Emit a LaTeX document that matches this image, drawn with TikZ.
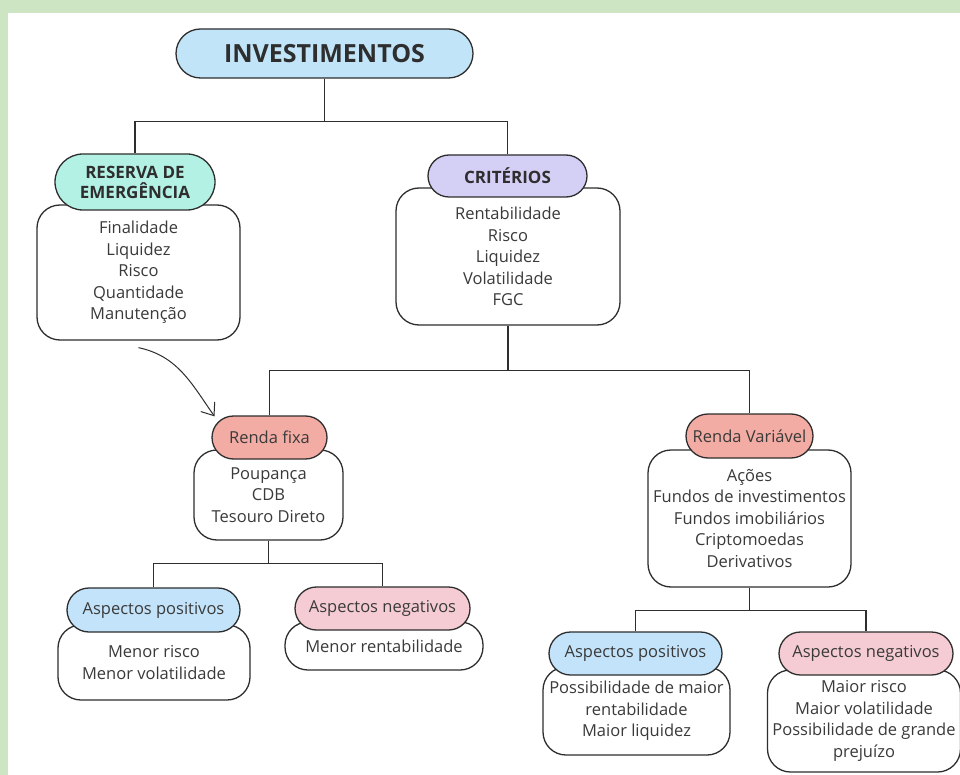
\documentclass[tikz,border=0pt]{standalone}
\usepackage{fontspec}
\setmainfont{Open Sans}
\usepackage{xcolor}
\usetikzlibrary{shapes.misc, arrows.meta, positioning}
\definecolor{paper}{HTML}{CDE5C3}
\definecolor{ink}{HTML}{2E2E2E}
\definecolor{words}{HTML}{3A3A3A}
\definecolor{topblue}{HTML}{C1E4F8}
\definecolor{mint}{HTML}{B4F1E5}
\definecolor{lavender}{HTML}{D3CFF5}
\definecolor{salmon}{HTML}{F3ACA3}
\definecolor{posblue}{HTML}{C2E3F9}
\definecolor{negpink}{HTML}{F5CCD3}

\begin{document}
\begin{tikzpicture}[
    x = 1pt, y = -1pt, align = center,
    > = {Straight Barb[length = 11pt, width = 17pt]},
    pill/.style = {
      rounded rectangle, draw = ink, line width = 1.3pt,
      inner sep = 0pt, text = words, font = \fontsize{16.5}{19}\selectfont
    },
    head/.style = {
      pill, text = ink, font = \fontsize{17}{20}\selectfont\bfseries
    },
    card/.style = {
      rectangle, rounded corners = 23pt, draw = ink, fill = white,
      line width = 1.3pt, inner sep = 0pt, text = words,
      font = \fontsize{16.5}{21.5}\selectfont
    },
    link/.style = {
      draw = ink, line width = 1.3pt
    },
    curved/.style = {
      ->, draw = ink, line width = 1pt
    },
    ]

    % background frame
    \useasboundingbox (0,0) rectangle (960,775);
    \fill [paper]  (0,0)  rectangle  (960,775);
    \fill [white]  (8,13)  rectangle  (960,775);

    % draw cards (white boxes under the labels)
    \node  [card, minimum width = 203pt, minimum height = 135pt]  (resbox)  at (138.5,272.5)
      {Finalidade\\Liquidez\\Risco\\Quantidade\\Manutenção};
    \node  [card, minimum width = 224pt, minimum height = 137pt]  (critbox)  at (508,256.5)
      {Rentabilidade\\Risco\\Liquidez\\Volatilidade\\FGC};
    \node  [card, minimum width = 149pt, minimum height = 90pt]  (fixabox)  at (268.5,495)
      {Poupança\\CDB\\Tesouro Direto};
    \node  [card, minimum width = 203pt, minimum height = 137pt]  (varbox)  at (749.5,518.5)
      {Ações\\Fundos de investimentos\\Fundos imobiliários\\Criptomoedas\\Derivativos};
    \node  [card, minimum width = 192pt, minimum height = 75pt]  (lposbox)  at (154,662.5)
      {Menor risco\\Menor volatilidade};
    \node  [card, minimum width = 198pt, minimum height = 48pt]  (lnegbox)  at (384,646)
      {Menor rentabilidade};
    \node  [card, minimum width = 187pt, minimum height = 88pt]  (rposbox)  at (636.5,711)
      {Possibilidade de maior\\rentabilidade\\Maior liquidez};
    \node  [card, minimum width = 193pt, minimum height = 102pt]  (rnegbox)  at (864,721)
      {Maior risco\\Maior volatilidade\\Possibilidade de grande\\prejuízo};

    % draw labels
    \node  [head, fill = topblue, minimum width = 297pt, minimum height = 49pt,
      font = \fontsize{25}{28}\selectfont\bfseries]  (invest)  at (324.5,53.5)  {INVESTIMENTOS};
    \node  [head, fill = mint, minimum width = 160pt, minimum height = 56pt]  (reserva)  at (135,182)
      {RESERVA DE\\EMERGÊNCIA};
    \node  [head, fill = lavender, minimum width = 159pt, minimum height = 42pt]  (criterios)  at (507.5,176)
      {CRITÉRIOS};
    \node  [pill, fill = salmon, minimum width = 115pt, minimum height = 43pt]  (fixa)  at (269.5,437.5)
      {Renda fixa};
    \node  [pill, fill = salmon, minimum width = 127pt, minimum height = 44pt]  (var)  at (749.5,436)
      {Renda Variável};
    \node  [pill, fill = posblue, minimum width = 173pt, minimum height = 44pt]  (lpos)  at (153.5,610)
      {Aspectos positivos};
    \node  [pill, fill = negpink, minimum width = 175pt, minimum height = 43pt]  (lneg)  at (382.5,608.5)
      {Aspectos negativos};
    \node  [pill, fill = posblue, minimum width = 173pt, minimum height = 43pt]  (rpos)  at (635.5,653.5)
      {Aspectos positivos};
    \node  [pill, fill = negpink, minimum width = 174pt, minimum height = 43pt]  (rneg)  at (866,653.5)
      {Aspectos negativos};

    % draw tree connectors
    \foreach \kid in {reserva, criterios}
    \draw  [link]  (invest.south)  -- ++(0,43)  -| (\kid.north);
    \foreach \kid in {fixa, var}
    \draw  [link]  (critbox.south)  -- ++(0,45)  -| (\kid.north);
    \foreach \kid in {lpos, lneg}
    \draw  [link]  (fixabox.south)  -- ++(0,23)  -| (\kid.north);
    \foreach \kid in {rpos, rneg}
    \draw  [link]  (varbox.south)  -- ++(0,23)  -| (\kid.north);

    % curved arrow from the reserve to fixed income
    \draw  [curved]  ([yshift = -7pt]resbox.south)  to [out = -12, in = 125]
      ([xshift = -19pt, yshift = -1pt]fixa.north west);

\end{tikzpicture}
\end{document}
